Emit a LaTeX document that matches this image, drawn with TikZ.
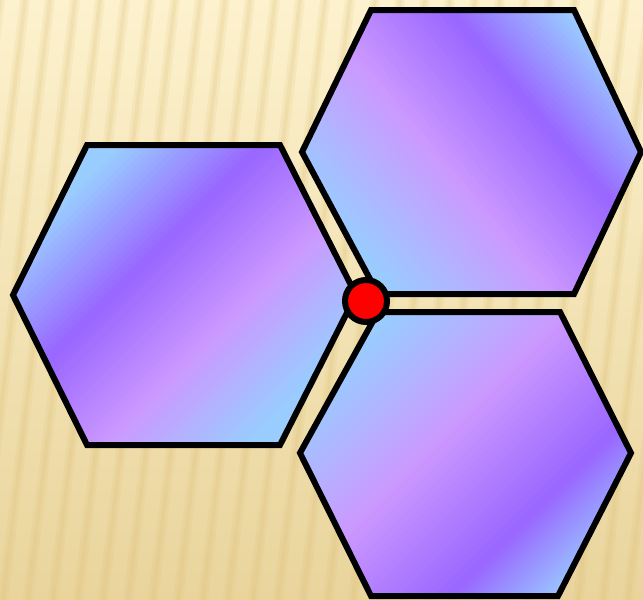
\documentclass[tikz,border=0pt]{standalone}
\definecolor{lb}{RGB}{153,204,255}
\definecolor{pu}{RGB}{153,102,255}
\definecolor{pk}{RGB}{204,153,255}
\definecolor{bgtop}{RGB}{253,242,206}
\definecolor{bgbot}{RGB}{233,212,156}
\definecolor{stripecol}{RGB}{222,192,118}
\newcommand\gseg[4]{\foreach \k in {0,...,19}{\pgfmathsetmacro\ua{#1+(#2-#1)*\k/20}\pgfmathsetmacro\ub{#1+(#2-#1)*(\k+1)/20+0.8}\pgfmathtruncatemacro\pc{100*(\k+0.5)/20}\fill[#4!\pc!#3] (\ua,-450) rectangle (\ub,450);}}
\tikzset{
  hexline/.style={draw=black, line width=6pt, line join=miter},
  hexL/.style={insert path={(87,145)--(280,145)--(356,295)--(280,445)--(87,445)--(13,295)--cycle}},
  hexT/.style={insert path={(371,10)--(574,10)--(641,152)--(574,294)--(378,294)--(302,152)--cycle}},
  hexB/.style={insert path={(378,312)--(560,312)--(631,453)--(558,596)--(371,596)--(300,453)--cycle}},
  hub/.style={circle, draw=black, fill=red, line width=6pt, minimum size=42pt, inner sep=0pt}
}
\begin{document}
\begin{tikzpicture}[x=1pt,y=-1pt]
\useasboundingbox (0,0) rectangle (643,600);
% background
\shade[top color=bgtop, bottom color=bgbot] (0,0) rectangle (643,600);
\begin{scope}
\clip (0,0) rectangle (643,600);
\foreach \s in {0,25,...,750}{
  \draw[stripecol, line width=10pt, opacity=0.15] (\s,0) -- (\s-72,600);
  \draw[stripecol, line width=4pt, opacity=0.2] (\s,0) -- (\s-72,600);
}
\end{scope}
% left hexagon
\begin{scope}
\clip[hexL];
\begin{scope}[shift={(183,295)},rotate=-45]
\fill[lb] (-450,-450) rectangle (-150,450);
\gseg{-150}{-50}{lb}{pu}
\gseg{-50}{50}{pu}{pk}
\gseg{50}{150}{pk}{lb}
\fill[lb] (149.5,-450) rectangle (450,450);
\end{scope}
\end{scope}
\draw[hexline, hexL];
% top-right hexagon
\begin{scope}
\clip[hexT];
\begin{scope}[shift={(471,152)},rotate=40]
\fill[lb] (-450,-450) rectangle (-150,450);
\gseg{-150}{-30}{lb}{pk}
\gseg{-30}{75}{pk}{pu}
\gseg{75}{165}{pu}{lb}
\fill[lb] (164.5,-450) rectangle (450,450);
\end{scope}
\end{scope}
\draw[hexline, hexT];
% bottom-right hexagon
\begin{scope}
\clip[hexB];
\begin{scope}[shift={(465,454)},rotate=-45]
\fill[lb] (-450,-450) rectangle (-150,450);
\gseg{-150}{-30}{lb}{pk}
\gseg{-30}{90}{pk}{pu}
\gseg{90}{170}{pu}{lb}
\fill[lb] (169.5,-450) rectangle (450,450);
\end{scope}
\end{scope}
\draw[hexline, hexB];
% hub
\node[hub] (hub) at (366,301) {};
\end{tikzpicture}
\end{document}
